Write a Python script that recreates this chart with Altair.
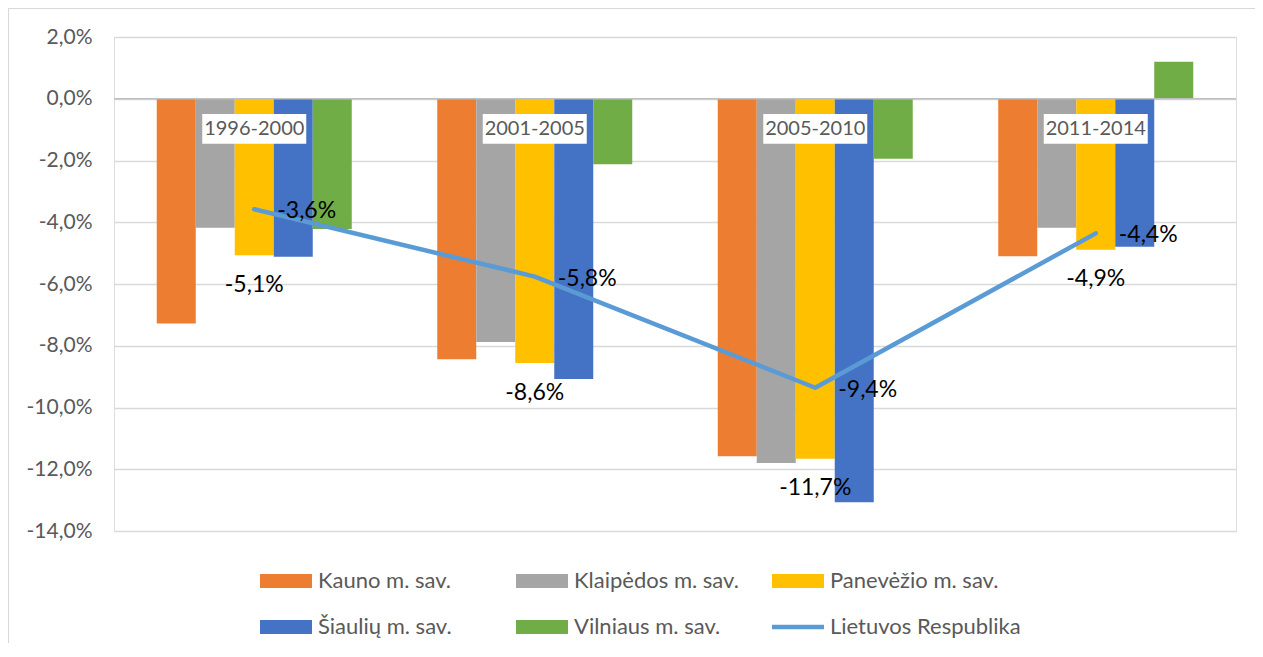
import altair as alt
import pandas as pd

periods = ["1996-2000", "2001-2005", "2005-2010", "2011-2014"]
bar_series = ["Kauno m. sav.", "Klaipėdos m. sav.", "Panevėžio m. sav.",
              "Šiaulių m. sav.", "Vilniaus m. sav."]
line_series = "Lietuvos Respublika"

kauno = [-7.28, -8.44, -11.58, -5.10]
klaipedos = [-4.18, -7.88, -11.80, -4.18]
panevezio = [-5.07, -8.56, -11.66, -4.89]
siauliu = [-5.12, -9.08, -13.07, -4.79]
vilniaus = [-4.22, -2.12, -1.94, 1.20]
lietuvos = [-3.58, -5.76, -9.36, -4.36]

colors = ["#ED7D31", "#A5A5A5", "#FFC000", "#4472C4", "#70AD47", "#5B9BD5"]
y_ticks = [-14, -12, -10, -8, -6, -4, -2, 0, 2]

rows = []
for name, vals in zip(bar_series, [kauno, klaipedos, panevezio, siauliu, vilniaus]):
    for p, v in zip(periods, vals):
        rows.append({"period": p, "series": name, "value": v})
bar_df = pd.DataFrame(rows)
line_df = pd.DataFrame({"period": periods, "value": lietuvos})
cat_df = pd.DataFrame({"period": periods})
pan_df = bar_df[bar_df["series"] == "Panevėžio m. sav."]

FMT = "(datum.{f} < 0 ? '-' : '') + replace(format(abs(datum.{f}), '.1f'), '.', ',') + '%'"

x_scale = alt.Scale(domain=periods, paddingInner=0.3048, paddingOuter=0.1524)
y_scale = alt.Scale(domain=[-14, 2], nice=False, zero=False)
yax = alt.Axis(values=y_ticks, labelExpr=FMT.format(f="value"), title=None,
               ticks=False, domain=False, grid=True, gridColor="#D9D9D9",
               gridWidth=1.3, labelFont="Lato", labelFontSize=21,
               labelColor="#595959", labelPadding=22)
X = alt.X("period:N", scale=x_scale, axis=None, sort=periods)

bars = alt.Chart(bar_df).mark_bar().encode(
    x=X,
    xOffset=alt.XOffset("series:N", sort=bar_series,
                        scale=alt.Scale(paddingInner=0, paddingOuter=0)),
    y=alt.Y("value:Q", scale=y_scale, axis=yax),
    color=alt.Color(
        "series:N",
        scale=alt.Scale(domain=bar_series + [line_series], range=colors),
        legend=alt.Legend(
            title=None, orient="none", legendX=146, legendY=518,
            columns=3, direction="horizontal", gridAlign="all",
            symbolType={"expr": "datum.value === 'Lietuvos Respublika' ? 'M-1,-0.09H1V0.09H-1Z' : 'M-1,-0.27H1V0.27H-1Z'"},
            symbolSize=2704, symbolStrokeWidth=0,
            labelFont="Lato", labelFontSize=22, labelColor="#595959",
            labelOffset=6, labelLimit=400, columnPadding=7, rowPadding=9,
        ),
    ),
)

zero_rule = alt.Chart(cat_df.head(1)).mark_rule(color="#BFBFBF", strokeWidth=1.5).encode(
    y=alt.YDatum(0, scale=y_scale, axis=yax)
)

boxes = alt.Chart(cat_df).mark_bar(width=104, color="white").encode(
    x=X,
    y=alt.YDatum(-0.49, scale=y_scale, axis=yax),
    y2=alt.Y2Datum(-1.46),
)

cat_text = alt.Chart(cat_df).mark_text(
    font="Lato", fontSize=20, color="#595959", baseline="middle"
).encode(
    x=X,
    y=alt.YDatum(-0.97, scale=y_scale, axis=yax),
    text="period:N",
)

line = alt.Chart(line_df).mark_line(
    color="#5B9BD5", strokeWidth=4.5, strokeCap="round", strokeJoin="round"
).encode(x=X, y=alt.Y("value:Q", scale=y_scale, axis=yax))

line_labels = alt.Chart(line_df).transform_calculate(
    lbl=FMT.format(f="value")
).mark_text(
    font="Lato", fontSize=23, color="#000000", align="left", baseline="middle", dx=23, dy=2
).encode(x=X, y=alt.Y("value:Q", scale=y_scale, axis=yax), text="lbl:N")

pan_labels = alt.Chart(pan_df).transform_calculate(
    lbl=FMT.format(f="value")
).mark_text(
    font="Lato", fontSize=23, color="#000000", align="center", baseline="middle", dy=29.5
).encode(x=X, y=alt.Y("value:Q", scale=y_scale, axis=yax), text="lbl:N")

frame = alt.Chart(cat_df.head(1)).mark_rect(
    filled=False, stroke="#D9D9D9", strokeWidth=1.2
).encode(
    x=alt.value(-105.5), x2=alt.value(1400), y=alt.value(-28.5), y2=alt.value(800)
)

chart = alt.layer(
    bars, zero_rule, boxes, cat_text, line, line_labels, pan_labels, frame
).properties(
    width=1122, height=494,
    autosize=alt.AutoSizeParams(type="none"),
    padding={"left": 106, "top": 29, "right": 19, "bottom": 112},
).configure_view(stroke=None).configure(background="white", font="Lato")

chart.save("out.html", embed_options={"renderer": "svg", "actions": False})
